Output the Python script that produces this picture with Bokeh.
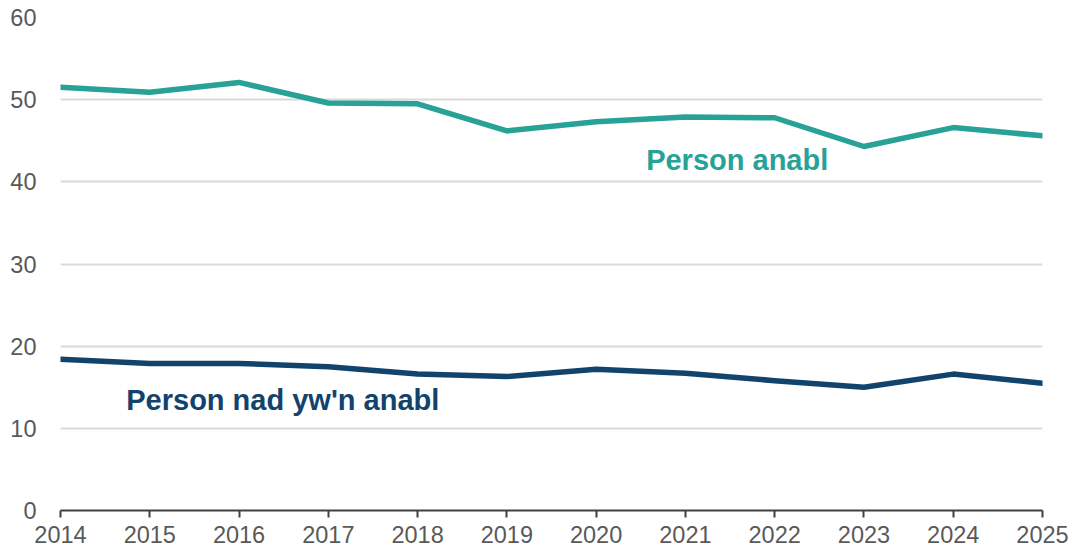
from bokeh.plotting import figure
from bokeh.models import Range1d, FixedTicker, ColumnDataSource
from bokeh.core.properties import value
from bokeh.embed import file_html
from bokeh.resources import INLINE

years = [2014, 2015, 2016, 2017, 2018, 2019, 2020, 2021, 2022, 2023, 2024, 2025]
disabled = [51.5, 50.9, 52.1, 49.6, 49.5, 46.2, 47.3, 47.9, 47.8, 44.3, 46.6, 45.6]
not_disabled = [18.4, 17.9, 17.9, 17.5, 16.6, 16.3, 17.2, 16.7, 15.8, 15.0, 16.6, 15.5]
y_ticks = [0, 10, 20, 30, 40, 50, 60]

label_names = ["Person anabl", "Person nad yw'n anabl"]
label_x = [2021.58, 2016.49]
label_y = [42.6, 13.5]

TEAL = "#28a197"
NAVY = "#12436d"
FONT = "Liberation Sans"

p = figure(width=1077, height=553, output_backend="svg", toolbar_location=None,
           x_range=Range1d(2014, 2025), y_range=Range1d(0, 60),
           min_border_left=60, min_border_right=35, min_border_top=17, min_border_bottom=43)
p.outline_line_color = None
p.background_fill_color = "white"

p.line(years, disabled, line_color=TEAL, line_width=5.5, line_join="round", line_cap="round")
p.line(years, not_disabled, line_color=NAVY, line_width=5.5, line_join="round", line_cap="round")

src = ColumnDataSource(dict(x=[label_x[0]], y=[label_y[0]], t=[label_names[0]]))
p.text(x="x", y="y", text="t", source=src, text_color=TEAL, text_font=value(FONT),
       text_font_size="29px", text_font_style="bold", text_align="center", text_baseline="middle")
src2 = ColumnDataSource(dict(x=[label_x[1]], y=[label_y[1]], t=[label_names[1]]))
p.text(x="x", y="y", text="t", source=src2, text_color=NAVY, text_font=value(FONT),
       text_font_size="29px", text_font_style="bold", text_align="center", text_baseline="middle")

p.xgrid.grid_line_color = None
p.ygrid.grid_line_color = "#d9d9d9"
p.ygrid.grid_line_width = 2
p.ygrid.ticker = FixedTicker(ticks=y_ticks[1:])

p.xaxis.ticker = FixedTicker(ticks=years)
p.xaxis.minor_tick_line_color = None
p.xaxis.major_tick_in = 0
p.xaxis.major_tick_out = 7
p.xaxis.major_tick_line_color = "#404040"
p.xaxis.major_tick_line_width = 2
p.xaxis.axis_line_color = "#404040"
p.xaxis.axis_line_width = 2
p.xaxis.major_label_standoff = 8
p.xaxis.major_label_text_font = FONT
p.xaxis.major_label_text_font_size = "23.5px"
p.xaxis.major_label_text_color = "#595959"

p.yaxis.ticker = FixedTicker(ticks=y_ticks)
p.yaxis.axis_line_color = None
p.yaxis.major_tick_line_color = None
p.yaxis.minor_tick_line_color = None
p.yaxis.major_label_standoff = 18
p.yaxis.major_label_text_font = FONT
p.yaxis.major_label_text_font_size = "23.5px"
p.yaxis.major_label_text_color = "#595959"

open("out.html", "w").write(file_html(p, INLINE))
